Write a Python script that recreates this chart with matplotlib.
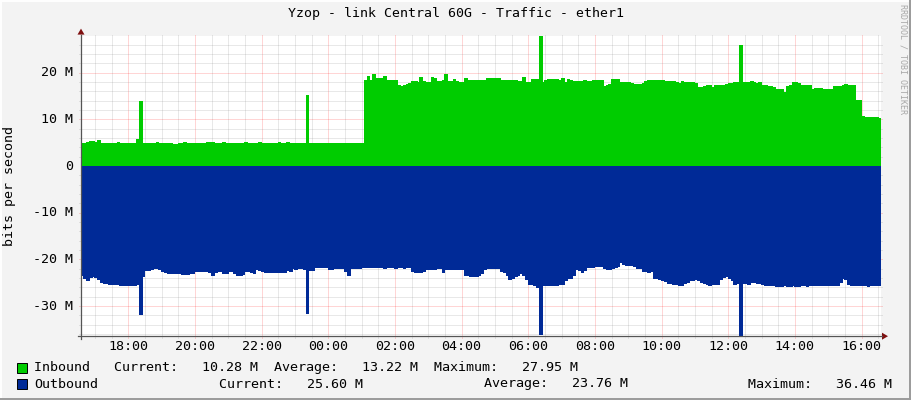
import numpy as np
import matplotlib
matplotlib.use("Agg")
import matplotlib.pyplot as plt
from matplotlib.lines import Line2D
from matplotlib.patches import Polygon, Rectangle

# ---------------- data ----------------
title = "Yzop - link Central 60G - Traffic - ether1"
y_axis_label = "bits per second"
watermark = "RRDTOOL / TOBI OETIKER"

start_hour = 16 + 35 / 60.0      # 16:35 previous day
step_minutes = 5

# inbound traffic, Mbit/s, one value per 5 minutes (12 per row = 1 hour)
inbound_mbps = [
    4.9, 4.9, 5.1, 5.2, 5.3, 5.1, 5.5, 4.9, 4.9, 4.9, 4.9, 4.9,
    4.9, 5.1, 4.9, 4.9, 4.9, 4.9, 4.9, 4.9, 5.6, 13.9, 4.9, 4.9,
    4.9, 4.9, 4.9, 5.1, 4.9, 4.9, 4.9, 4.9, 4.9, 4.7, 4.7, 4.9,
    4.9, 5.1, 4.9, 4.9, 4.9, 4.9, 4.9, 4.9, 4.9, 5.1, 5.1, 5.1,
    4.9, 4.9, 4.9, 5.1, 4.9, 4.9, 4.9, 4.9, 4.9, 4.9, 4.9, 5.1,
    4.9, 4.9, 4.9, 4.9, 5.1, 4.9, 4.9, 4.9, 4.9, 4.9, 4.9, 5.1,
    4.9, 4.9, 5.1, 4.9, 4.9, 4.9, 4.9, 4.9, 4.9, 15.1, 4.9, 4.9,
    4.9, 4.9, 4.9, 4.9, 4.9, 4.9, 4.9, 4.9, 4.9, 4.9, 4.9, 4.9,
    4.9, 4.9, 4.9, 4.9, 4.9, 4.9, 18.4, 19.2, 18.4, 19.6, 18.8, 18.8,
    18.8, 19.1, 18.4, 18.4, 18.4, 18.3, 17.3, 17.0, 17.3, 17.5, 17.7, 18.1,
    18.2, 18.0, 18.9, 18.2, 18.0, 18.0, 18.9, 18.7, 18.2, 18.2, 18.3, 19.6,
    18.1, 18.1, 18.6, 18.2, 18.0, 18.0, 18.7, 18.4, 18.4, 18.4, 18.4, 18.4,
    18.4, 18.4, 18.7, 18.7, 18.7, 18.7, 18.7, 18.4, 18.3, 18.4, 18.4, 18.4,
    18.4, 18.2, 18.2, 18.9, 18.0, 18.0, 18.6, 18.6, 18.6, 27.95, 18.0, 18.4,
    18.6, 18.6, 18.6, 18.5, 18.3, 18.8, 18.0, 18.6, 18.4, 18.1, 18.1, 18.1,
    18.1, 18.4, 18.2, 18.2, 18.3, 18.4, 18.4, 18.4, 17.1, 17.2, 17.4, 18.6,
    18.6, 18.5, 18.0, 18.0, 18.0, 18.0, 17.6, 17.5, 17.5, 17.5, 17.6, 18.2,
    18.4, 18.4, 18.4, 18.4, 18.4, 18.3, 18.1, 18.1, 18.1, 18.1, 18.0, 17.7,
    18.1, 17.8, 17.8, 17.8, 17.8, 17.6, 16.9, 16.9, 17.0, 17.3, 17.2, 16.9,
    17.3, 17.3, 17.3, 17.3, 17.5, 17.7, 17.7, 17.9, 17.9, 25.9, 18.0, 18.0,
    18.0, 18.1, 17.8, 17.6, 17.8, 17.3, 17.3, 17.0, 17.0, 16.8, 16.4, 16.4,
    16.3, 15.7, 17.0, 17.3, 17.9, 17.9, 17.6, 17.3, 17.3, 17.3, 17.3, 16.3,
    16.6, 16.6, 16.6, 16.5, 16.3, 16.3, 16.5, 17.0, 17.0, 17.0, 17.3, 17.5,
    17.3, 17.3, 17.3, 14.1, 14.1, 10.6, 10.5, 10.5, 10.4, 10.4, 10.3, 10.28,
]

# outbound traffic, Mbit/s (drawn below zero)
outbound_mbps = [
    23.4, 24.0, 24.6, 23.8, 23.6, 23.9, 24.3, 24.9, 25.1, 25.2, 25.4, 25.3,
    25.3, 25.4, 25.5, 25.6, 25.6, 25.7, 25.7, 25.7, 25.4, 31.9, 23.6, 22.4,
    22.4, 22.2, 22.0, 22.0, 22.1, 22.6, 22.8, 23.1, 23.1, 23.1, 23.0, 23.0,
    23.3, 23.3, 23.3, 23.1, 23.1, 22.6, 22.7, 22.7, 22.7, 22.7, 22.8, 23.4,
    22.8, 22.6, 22.7, 23.1, 23.0, 22.7, 22.7, 23.0, 23.4, 23.4, 23.3, 22.7,
    22.7, 22.8, 23.1, 22.2, 22.4, 22.6, 22.9, 22.9, 22.9, 22.9, 22.9, 22.9,
    22.9, 22.9, 22.3, 22.6, 22.0, 22.2, 22.0, 21.9, 22.2, 31.5, 22.4, 22.4,
    21.8, 21.7, 21.8, 21.8, 21.8, 22.2, 22.2, 22.0, 22.0, 22.0, 22.0, 22.6,
    23.4, 21.9, 21.9, 21.9, 21.9, 21.7, 21.7, 21.7, 21.7, 21.7, 21.7, 21.8,
    21.8, 21.9, 21.8, 21.7, 21.8, 21.9, 21.8, 21.8, 21.9, 21.8, 21.8, 22.6,
    22.8, 22.9, 22.9, 22.6, 22.2, 22.2, 22.2, 22.1, 22.0, 22.0, 22.9, 22.1,
    22.1, 22.1, 22.1, 22.1, 22.2, 22.2, 23.4, 23.4, 23.6, 23.6, 23.6, 23.4,
    23.0, 22.2, 22.0, 22.0, 22.0, 22.0, 22.0, 22.6, 22.8, 23.4, 24.4, 24.2,
    23.6, 23.4, 23.1, 23.5, 24.4, 25.4, 25.4, 25.7, 26.0, 36.0, 25.6, 25.6,
    25.6, 25.6, 25.6, 25.5, 25.3, 25.3, 24.5, 24.1, 24.1, 23.5, 22.2, 22.3,
    22.8, 22.4, 21.7, 21.7, 21.7, 21.5, 21.5, 21.6, 21.9, 22.2, 22.2, 21.9,
    21.7, 21.5, 20.6, 21.0, 21.3, 21.3, 21.3, 21.5, 21.9, 22.0, 22.6, 22.6,
    22.8, 22.5, 24.0, 24.0, 24.3, 24.6, 24.8, 25.1, 25.1, 25.3, 25.3, 25.5,
    25.5, 25.1, 25.0, 24.6, 24.5, 24.4, 24.6, 24.9, 25.1, 25.3, 25.6, 25.3,
    25.3, 25.3, 24.4, 23.8, 23.6, 24.0, 24.6, 25.3, 25.1, 36.46, 25.1, 25.1,
    25.3, 24.9, 24.9, 25.1, 25.1, 25.4, 25.6, 25.6, 25.6, 25.6, 25.8, 25.8,
    25.8, 25.7, 25.8, 25.8, 25.7, 25.8, 25.8, 25.6, 25.7, 25.8, 25.7, 25.7,
    25.7, 25.6, 25.7, 25.7, 25.6, 25.7, 25.6, 25.7, 25.7, 24.9, 24.1, 24.4,
    25.3, 25.6, 25.6, 25.7, 25.7, 25.6, 25.7, 25.8, 25.7, 25.7, 25.6, 25.6,
]

x_tick_hours = [18, 20, 22, 24, 26, 28, 30, 32, 34, 36, 38, 40]
x_tick_labels = ["18:00", "20:00", "22:00", "00:00", "02:00", "04:00",
                 "06:00", "08:00", "10:00", "12:00", "14:00", "16:00"]
y_tick_values = [-30, -20, -10, 0, 10, 20]
y_tick_labels = ["-30 M", "-20 M", "-10 M", "0", "10 M", "20 M"]

series_names = ["Inbound", "Outbound"]
series_colors = ["#00CC00", "#002A97"]
inbound_stats = ["10.28 M", "13.22 M", "27.95 M"]
outbound_stats = ["25.60 M", "23.76 M", "36.46 M"]

# ---------------- layout ----------------
W, H = 911, 400
BG = "#F3F3F3"
MONO = "DejaVu Sans Mono"
fig = plt.figure(figsize=(W / 100, H / 100), dpi=100, facecolor=BG)

L, R, T, B = 81, 881, 35.6, 336.2


def fx(px):
    return px / W


def fy(py):
    return 1 - py / H


ax = fig.add_axes([fx(L), fy(B), (R - L) / W, (B - T) / H])
ax.set_facecolor("white")
for s in ax.spines.values():
    s.set_visible(False)
ax.set_xticks([])
ax.set_yticks([])

inb = np.array(inbound_mbps)
outb = np.array(outbound_mbps)
edges = start_hour + np.arange(len(inb) + 1) * step_minutes / 60.0

# one closed step outline per series, filled as a single patch
ax.fill_between(edges, np.r_[inb, inb[-1]], 0, step="post", facecolor=series_colors[0],
                edgecolor="none", lw=0, zorder=1, antialiased=False)
ax.fill_between(edges, -np.r_[outb, outb[-1]], 0, step="post", facecolor=series_colors[1],
                edgecolor="none", lw=0, zorder=1, antialiased=False)

x0, x1 = edges[0], edges[-1]
y0, y1 = -outb.max(), inb.max()
ax.set_xlim(x0, x1)
ax.set_ylim(y0, y1)

dxp = (x1 - x0) / (R - L)
dyp = (y1 - y0) / (B - T)

minor_c = (0.5, 0.5, 0.5, 0.35)
major_c = (1.0, 0.0, 0.0, 0.33)
dots = (0, (1, 1))

# grid drawn beneath the areas
for h in np.arange(np.ceil(x0 * 2) / 2, x1, 0.5):
    is_major = abs(h / 2 - round(h / 2)) < 1e-6
    ax.plot([h, h], [y0 - 2 * dyp, y1 + 2 * dyp], color=major_c if is_major else minor_c,
            lw=0.72, ls=dots, zorder=0.5, clip_on=False, snap=True)
for v in np.arange(-36, 28, 2):
    is_major = v % 10 == 0
    if v == 0:
        continue
    ax.plot([x0 - 2 * dxp, x1 + 2 * dxp], [v, v], color=major_c if is_major else minor_c,
            lw=0.72, ls=dots, zorder=0.5, clip_on=False, snap=True)

# axes lines with arrows
axis_c = "#555555"
arrow_c = "#7F1010"
fig.add_artist(Line2D([fx(L), fx(L)], [fy(B + 3), fy(T - 1)], color=axis_c, lw=0.9))
fig.add_artist(Line2D([fx(L - 3), fx(R + 1)], [fy(B), fy(B)], color=axis_c, lw=0.9))
fig.add_artist(Polygon([[fx(L), fy(T - 7)], [fx(L - 3.5), fy(T - 1)], [fx(L + 3.5), fy(T - 1)]],
                       closed=True, color=arrow_c, lw=0))
fig.add_artist(Polygon([[fx(R + 7), fy(B)], [fx(R + 1), fy(B - 3.5)], [fx(R + 1), fy(B + 3.5)]],
                       closed=True, color=arrow_c, lw=0))

# tick labels
FS = 9.6
for h, lab in zip(x_tick_hours, x_tick_labels):
    px = L + (h - x0) / dxp
    fig.text(fx(px), fy(347), lab, family=MONO, fontsize=FS, ha="center", va="center", color="#000000")
for v, lab in zip(y_tick_values, y_tick_labels):
    py = B - (v - y0) / dyp
    fig.text(fx(73), fy(py), lab, family=MONO, fontsize=FS, ha="right", va="center", color="#000000")

# title, axis label, watermark
fig.text(fx(455.5), fy(14), title, family=MONO, fontsize=9.5, ha="center", va="center")
fig.text(fx(10), fy(186), y_axis_label, family=MONO, fontsize=FS, rotation=90,
         ha="center", va="center")
fig.text(fx(903), fy(4), watermark, family=MONO, fontsize=6, rotation=270,
         ha="center", va="top", color="#A8A8A8")

# legend
for i, (name, col) in enumerate(zip(series_names, series_colors)):
    cy = 368 + 16 * i
    fig.add_artist(Rectangle((fx(17), fy(cy + 5)), 10 / W, 10 / H, facecolor=col,
                             edgecolor="#000000", lw=0.7))
row1 = "%-10s" % series_names[0] + "Current:   %s  Average:   %s  Maximum:   %s" % tuple(inbound_stats)
fig.text(fx(34), fy(368), row1, family=MONO, fontsize=FS, ha="left", va="center")
fig.text(fx(34), fy(384), series_names[1], family=MONO, fontsize=FS, ha="left", va="center")
for xpos, lab, val in zip([219, 484, 748], ["Current:", "Average:", "Maximum:"], outbound_stats):
    fig.text(fx(xpos), fy(384), "%s   %s" % (lab, val), family=MONO, fontsize=FS,
             ha="left", va="center")

# canvas frame
fig.add_artist(Line2D([0, 1], [fy(0.5), fy(0.5)], color="#FFFFFF", lw=1.4))
fig.add_artist(Line2D([fx(0.5), fx(0.5)], [0, 1], color="#FFFFFF", lw=1.4))
fig.add_artist(Line2D([0, 1], [fy(399.2), fy(399.2)], color="#9A9A9A", lw=1.4))
fig.add_artist(Line2D([fx(910.2), fx(910.2)], [0, 1], color="#9A9A9A", lw=1.4))

fig.savefig("out.png", dpi=100, facecolor=BG)
